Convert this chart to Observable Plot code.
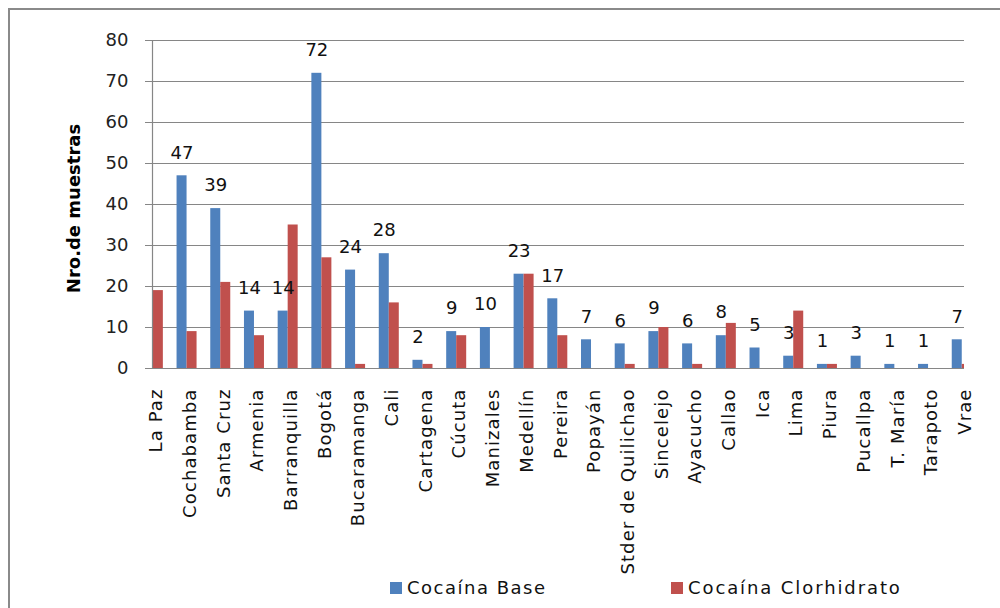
<!DOCTYPE html>
<html>
<head>
<meta charset="utf-8">
<script src="https://cdn.jsdelivr.net/npm/d3@7"></script>
<script src="https://cdn.jsdelivr.net/npm/@observablehq/plot@0.6"></script>
<style>
  body { margin: 0; background: #fff; font-family: "DejaVu Sans", sans-serif; }
  #wrap { position: relative; width: 1000px; height: 608px; overflow: hidden; }
  #border { position: absolute; left: 8px; top: 8px; width: 1000px; height: 620px;
            border-left: 2px solid #8a8a8a; border-top: 2px solid #8a8a8a; }
  #chart { position: absolute; left: 0; top: 0; }
  #chart svg [aria-label="x-axis tick label"] text { letter-spacing: 1.1px; }
  .leg { position: absolute; top: 577px; font-size: 18px; color: #111; white-space: nowrap;
         display: flex; align-items: center; font-family: "DejaVu Sans", sans-serif; }
  .sw { display: inline-block; width: 12px; height: 12px; margin-right: 5px; }
</style>
</head>
<body>
<div id="wrap">
  <div id="border"></div>
  <div id="chart"></div>
  <div class="leg" style="left:390px;letter-spacing:1.5px"><span class="sw" style="background:#4F81BD"></span>Cocaína Base</div>
  <div class="leg" style="left:671px;letter-spacing:1.9px"><span class="sw" style="background:#C0504D"></span>Cocaína Clorhidrato</div>
</div>
<script>
const cities = ["La Paz", "Cochabamba", "Santa Cruz", "Armenia", "Barranquilla", "Bogotá",
  "Bucaramanga", "Cali", "Cartagena", "Cúcuta", "Manizales", "Medellín", "Pereira",
  "Popayán", "Stder de Quilichao", "Sincelejo", "Ayacucho", "Callao", "Ica", "Lima",
  "Piura", "Pucallpa", "T. María", "Tarapoto", "Vrae"];
const base = [0, 47, 39, 14, 14, 72, 24, 28, 2, 9, 10, 23, 17, 7, 6, 9, 6, 8, 5, 3, 1, 3, 1, 1, 7];
const clorhidrato = [19, 9, 21, 8, 35, 27, 1, 16, 1, 8, 0, 23, 8, 0, 1, 10, 1, 11, 0, 14, 1, 0, 0, 0, 1];
const yTicks = [0, 10, 20, 30, 40, 50, 60, 70, 80];
const seriesNames = ["Cocaína Base", "Cocaína Clorhidrato"];
const colors = ["#4F81BD", "#C0504D"];

const table = cities.map((c, i) => ({city: c, base: base[i], clor: clorhidrato[i]}));
const labelled = table.filter(d => d.base > 0);

const chart = Plot.plot({
  width: 1000,
  height: 608,
  marginLeft: 152,
  marginRight: 36,
  marginTop: 40,
  marginBottom: 240,
  style: {fontFamily: "DejaVu Sans, sans-serif", background: "transparent"},
  x: {domain: cities, range: [136, 978.6], padding: 0, round: false, label: null},
  y: {domain: [0, 80], label: null},
  marks: [
    Plot.gridY(yTicks, {stroke: "#868686", strokeOpacity: 1, strokeWidth: 1.2}),
    Plot.barY(table, {x: "city", y: "base", fill: colors[0], insetLeft: 6.85, insetRight: 16.85, clip: true}),
    Plot.barY(table, {x: "city", y: "clor", fill: colors[1], insetLeft: 16.85, insetRight: 6.85, clip: true}),
    Plot.frame({anchor: "left", stroke: "#868686", strokeWidth: 1.2}),
    Plot.ruleY([0], {stroke: "#868686", strokeWidth: 1.2}),
    Plot.axisY(yTicks, {tickSize: 7, tickPadding: 17, stroke: "#868686", fill: "#222", fontSize: 18, label: null}),
    Plot.axisX({tickRotate: -90, tickSize: 0, tickPadding: 20, fontSize: 18, fill: "#111", label: null, dx: 3}),
    Plot.text(labelled, {x: "city", y: "base", text: d => String(d.base), dx: -5, dy: -23, fontSize: 18, fill: "#111"}),
    Plot.text(["Nro.de muestras"], {frameAnchor: "left", textAnchor: "middle", rotate: -90, dx: -78, dy: 4, fontSize: 18, fontWeight: "bold", fill: "#000"})
  ]
});
document.getElementById("chart").appendChild(chart);
</script>
</body>
</html>
